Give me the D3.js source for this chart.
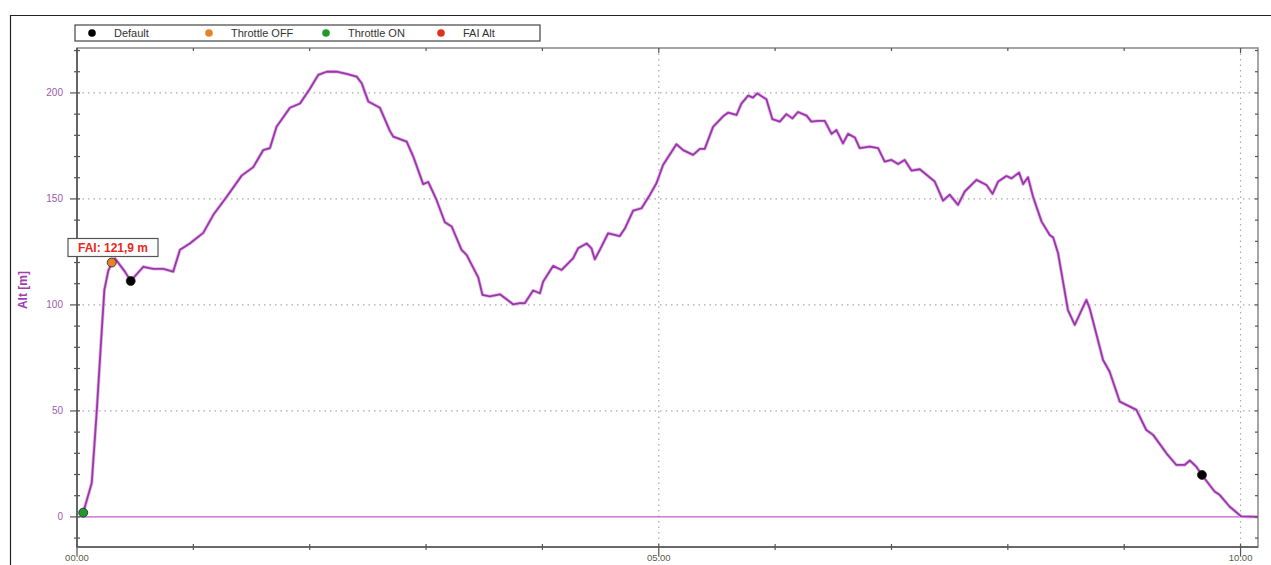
<!DOCTYPE html>
<html>
<head>
<meta charset="utf-8">
<title>Alt [m]</title>
<script src="https://cdn.jsdelivr.net/npm/d3@7"></script>
<style>
body { margin: 0; background: #fff; }
svg { display: block; font-family: "Liberation Sans", Arial, sans-serif; }
</style>
</head>
<body>
<div id="chart"></div>
<script>
// flight track, seconds since start / altitude in metres
var timeSec = [3.2, 7.6, 10.2, 12.7, 14.1, 16.1, 17.9, 19.6, 24.7, 27.7, 34.2, 39.3, 44.5, 49.6, 53.1, 58.2,
  65.1, 70.3, 77.2, 84.9, 90.9, 96.0, 99.5, 102.9, 109.8, 115.0, 120.1, 124.4, 128.7, 133.9, 139.0, 144.2,
  146.8, 150.2, 156.2, 161.4, 163.1, 170.0, 173.4, 178.5, 181.1, 185.4, 189.7, 193.2, 198.3, 200.9, 206.9,
  209.1, 212.9, 218.1, 221.5, 224.9, 228.4, 230.9, 235.2, 238.7, 240.4, 245.5, 249.9, 255.8, 258.4, 262.8,
  265.3, 267.0, 269.6, 273.9, 279.9, 282.5, 286.8, 291.1, 295.4, 298.8, 302.2, 309.1, 312.6, 317.7, 321.2,
  323.7, 328.0, 333.2, 335.7, 340.1, 342.6, 346.1, 348.6, 350.7, 355.5, 358.6, 362.4, 365.8, 368.9, 371.8,
  376.2, 378.7, 382.1, 385.6, 389.1, 391.6, 395.0, 397.6, 401.1, 403.6, 408.8, 413.1, 416.5, 420.0, 423.4,
  426.8, 430.3, 434.6, 442.3, 446.6, 450.0, 454.3, 457.8, 463.8, 469.0, 472.1, 475.0, 479.3, 481.9, 485.8,
  487.9, 490.4, 493.0, 497.4, 501.6, 503.4, 505.9, 511.0, 514.5, 520.5, 522.2, 529.1, 532.5, 537.7, 546.3,
  551.4, 554.9, 561.8, 566.9, 571.2, 573.8, 577.2, 580.1, 586.6, 589.2, 594.3, 600.4, 609.0];
var altM = [2, 16, 50, 87, 107, 116, 120, 121.9, 115.7, 111.3, 118, 117, 117, 115.7, 126, 129,
  134, 142.5, 151, 161, 165, 173, 174, 184, 193, 195, 202, 208.5, 210, 210, 209, 207.7,
  204.6, 196, 193, 182, 179.4, 177, 170, 157, 158, 149.5, 139, 137, 126, 123.6, 113,
  104.7, 104, 105, 102.7, 100.3, 100.8, 100.8, 106.8, 105.5, 111, 118.4, 116.5, 122, 126.7, 129,
  126.7, 121.5, 126, 133.8, 132.5, 136, 144.5, 145.6, 151.9, 157.4, 166, 175.8, 173, 170.8, 173.6,
  173.6, 184, 189, 190.7, 189.6, 195, 198.7, 197.8, 199.8, 197, 187.6, 186.5, 190, 188, 191,
  189.3, 186.5, 186.8, 186.8, 180.7, 182.5, 176.2, 180.7, 179, 174, 174.7, 174, 167.6, 168.4, 166.5,
  168.4, 163.4, 164, 158.2, 149.2, 152, 147.2, 153.5, 159, 156.6, 152.4, 158.2, 160.8, 159.7, 162.4,
  157, 160.2, 151, 139.3, 133, 131.8, 124.4, 97.6, 90.6, 102.4, 98.4, 74, 68.5, 54.4, 50.5,
  41, 38.7, 30, 24.5, 24.5, 26.6, 23.7, 19.8, 12, 10.4, 4.9, 0.2, 0];

// event markers
var eventNames = ["Throttle ON", "Throttle OFF", "Default", "Default"];
var eventTime = [3.2, 17.9, 27.7, 580.1];
var eventAlt = [2, 120, 111.3, 19.8];

var legendNames = ["Default", "Throttle OFF", "Throttle ON", "FAI Alt"];
var legendColors = ["#000000", "#e8822a", "#1e9a2a", "#e0301e"];

var faiTime = 19.6, faiAlt = 121.9, faiLabel = "FAI: 121,9 m";

var xMajor = [0, 300, 600], xMajorLabels = ["00:00", "05:00", "10:00"];
var yMajor = [0, 50, 100, 150, 200];

var W = 1271, H = 565;
var L = 77, R = 1258, T = 48, B = 547;
var purple = "#9a36aa";

var svg = d3.select("#chart").append("svg").attr("width", W).attr("height", H);

var x = d3.scaleLinear().domain([0, 609]).range([L, R]);
var y = d3.scaleLinear().domain([-14.2, 221.2]).range([B, T]);

// outer frame
svg.append("path").attr("d", "M10.5," + H + "V15.5H" + W)
  .attr("fill", "none").attr("stroke", "#222").attr("stroke-width", 1.2);

// grid
var grid = svg.append("g").attr("stroke", "#aaa").attr("stroke-dasharray", "1.5,4").attr("stroke-width", 1.2);
grid.selectAll(".gy").data(yMajor.filter(function(d) { return d > 0; })).enter().append("line")
  .attr("x1", L).attr("x2", R).attr("y1", function(d) { return y(d); }).attr("y2", function(d) { return y(d); });
grid.selectAll(".gx").data(xMajor.filter(function(d) { return d > 0; })).enter().append("line")
  .attr("y1", T).attr("y2", B).attr("x1", function(d) { return x(d); }).attr("x2", function(d) { return x(d); });

// zero line
svg.append("line").attr("x1", L).attr("x2", R).attr("y1", y(0)).attr("y2", y(0))
  .attr("stroke", "#c25cc6").attr("stroke-width", 1.4);

// altitude line
var line = d3.line().x(function(d, i) { return x(timeSec[i]); }).y(function(d) { return y(d); });
svg.append("path").datum(altM).attr("d", line)
  .attr("fill", "none").attr("stroke", "#e2b8e6").attr("stroke-width", 3.4).attr("stroke-linejoin", "round");
svg.append("path").datum(altM).attr("d", line)
  .attr("fill", "none").attr("stroke", purple).attr("stroke-width", 1.8).attr("stroke-linejoin", "round");

// plot border
svg.append("rect").attr("x", L).attr("y", T).attr("width", R - L).attr("height", B - T)
  .attr("fill", "none").attr("stroke", "#888").attr("stroke-width", 1.5);
svg.append("line").attr("x1", L).attr("x2", L).attr("y1", T).attr("y2", B).attr("stroke", "#666").attr("stroke-width", 2);
svg.append("line").attr("x1", L).attr("x2", R).attr("y1", B).attr("y2", B).attr("stroke", "#555").attr("stroke-width", 1.6);

// axes
var yTicks = d3.range(-10, 221, 10);
var xTicks = d3.range(0, 601, 60);
var ax = svg.append("g").attr("stroke", "#555").attr("stroke-width", 1.2);
ax.selectAll(".yt").data(yTicks).enter().append("line")
  .attr("x1", function(d) { return yMajor.indexOf(d) >= 0 ? L - 7 : L - 3; }).attr("x2", L + 3)
  .attr("y1", function(d) { return y(d); }).attr("y2", function(d) { return y(d); });
ax.selectAll(".yr").data(yTicks).enter().append("line")
  .attr("x1", R - 3).attr("x2", R)
  .attr("y1", function(d) { return y(d); }).attr("y2", function(d) { return y(d); });
ax.selectAll(".xt").data(xTicks).enter().append("line")
  .attr("y1", B - 3).attr("y2", function(d) { return xMajor.indexOf(d) >= 0 ? B + 9 : B + 3; })
  .attr("x1", function(d) { return x(d); }).attr("x2", function(d) { return x(d); });
ax.selectAll(".xtop").data(xTicks).enter().append("line")
  .attr("y1", T).attr("y2", function(d) { return xMajor.indexOf(d) >= 0 ? T + 5 : T + 3; })
  .attr("x1", function(d) { return x(d); }).attr("x2", function(d) { return x(d); });

svg.selectAll(".yl").data(yMajor).enter().append("text")
  .attr("x", L - 14).attr("y", function(d) { return y(d) + 3.5; })
  .attr("text-anchor", "end").attr("font-size", 10).attr("fill", "#a05ab0")
  .text(function(d) { return d; });
svg.selectAll(".xl").data(xMajor).enter().append("text")
  .attr("x", function(d) { return x(d); }).attr("y", 561)
  .attr("text-anchor", "middle").attr("font-size", 9.5).attr("fill", "#5a5a48")
  .text(function(d, i) { return xMajorLabels[i]; });

svg.append("text").attr("transform", "translate(27," + y(107) + ") rotate(-90)")
  .attr("text-anchor", "middle").attr("font-size", 12).attr("font-weight", "bold")
  .attr("fill", "#a040b0").text("Alt [m]");

// event dots
svg.selectAll(".ev").data(eventNames).enter().append("circle")
  .attr("cx", function(d, i) { return x(eventTime[i]); })
  .attr("cy", function(d, i) { return y(eventAlt[i]); })
  .attr("r", 4.5)
  .attr("fill", function(d) { return legendColors[legendNames.indexOf(d)]; })
  .attr("stroke", "#222").attr("stroke-width", 0.8);

// FAI label
var fx = x(faiTime) - 2, fy = y(faiAlt) - 2;
svg.append("rect").attr("x", fx - 45).attr("y", fy - 18).attr("width", 90).attr("height", 18)
  .attr("fill", "#fff").attr("stroke", "#555").attr("stroke-width", 1.2);
svg.append("text").attr("x", fx).attr("y", fy - 4.5).attr("text-anchor", "middle")
  .attr("font-size", 12).attr("font-weight", "bold").attr("fill", "#e8281e").text(faiLabel);

// legend
var lg = svg.append("g");
lg.append("rect").attr("x", 75).attr("y", 25).attr("width", 465).attr("height", 16)
  .attr("fill", "#fff").attr("stroke", "#444").attr("stroke-width", 1.2);
var legendX = [92, 209, 326, 441];
lg.selectAll(".li").data(legendNames).enter().append("circle")
  .attr("cx", function(d, i) { return legendX[i]; }).attr("cy", 33).attr("r", 3.8)
  .attr("fill", function(d, i) { return legendColors[i]; });
lg.selectAll(".lt").data(legendNames).enter().append("text")
  .attr("x", function(d, i) { return legendX[i] + 22; }).attr("y", 37)
  .attr("font-size", 11).attr("fill", "#333").text(function(d) { return d; });
</script>
</body>
</html>
